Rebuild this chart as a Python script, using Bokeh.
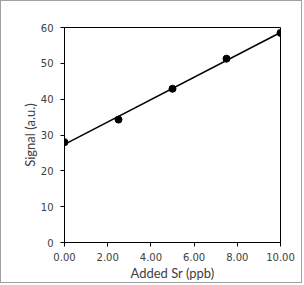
import numpy as np
from bokeh.plotting import figure
from bokeh.models import Range1d, FixedTicker, CustomJSTickFormatter, Title
from bokeh.embed import file_html
from bokeh.resources import INLINE

added_sr = [0.0, 2.5, 5.0, 7.5, 10.0]
signal = [28.0, 34.3, 42.9, 51.3, 58.5]
x_ticks = [0, 2, 4, 6, 8, 10]
y_ticks = [0, 10, 20, 30, 40, 50, 60]

slope, intercept = np.polyfit(added_sr, signal, 1)
fit_x = [min(added_sr), max(added_sr)]
fit_y = [slope * v + intercept for v in fit_x]

p = figure(width=302, height=283, output_backend="svg", toolbar_location=None,
           x_range=Range1d(0, 10), y_range=Range1d(0, 60),
           min_border_left=63, min_border_right=23, min_border_top=26, min_border_bottom=42)
p.styles = {"border": "1px solid #a0a0a0"}
p.grid.visible = False
p.outline_line_color = "black"
p.outline_line_width = 1

p.line(fit_x, fit_y, line_color="black", line_width=1.5)
p.scatter(added_sr, signal, size=7, color="black")

for ax in (p.xaxis[0], p.yaxis[0]):
    ax.axis_line_color = "black"
    ax.major_tick_line_color = "black"
    ax.major_tick_out = 4
    ax.major_tick_in = 0
    ax.minor_tick_line_color = None
    ax.major_label_text_font = "DejaVu Sans"
    ax.major_label_text_font_size = "10px"
    ax.major_label_text_color = "#404040"
    ax.axis_label_text_font = "Lato"
    ax.axis_label_text_font_size = "13px"
    ax.axis_label_text_font_style = "normal"
    ax.axis_label_text_color = "#404040"

p.xaxis.ticker = FixedTicker(ticks=x_ticks)
p.yaxis.ticker = FixedTicker(ticks=y_ticks)
p.xaxis.formatter = CustomJSTickFormatter(code="return tick.toFixed(2);")
p.xaxis.axis_label = "Added Sr (ppb)"
p.xaxis.major_label_standoff = 6
p.yaxis.major_label_standoff = 7
p.xaxis.axis_label_standoff = 1

ytitle = Title(text="Signal (a.u.)", align="center", text_font="Lato",
               text_font_size="13px", text_font_style="normal", text_color="#404040",
               standoff=0, offset=0)
p.add_layout(ytitle, "left")

open("out.html", "w").write(file_html(p, INLINE))
